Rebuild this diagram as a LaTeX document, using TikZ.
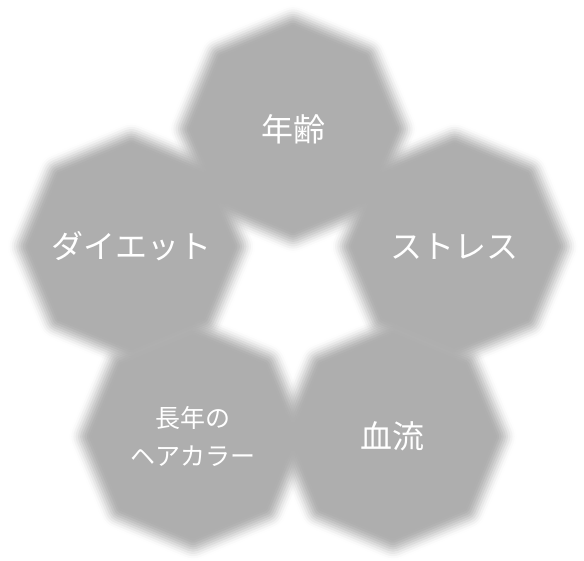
\documentclass[tikz,border=0pt]{standalone}
\usepackage{fontspec}
\usepackage{tikz}
\newfontfamily\jpfont{Noto Sans CJK JP}
\definecolor{petalgray}{RGB}{174,174,174}

\tikzset{
  petal/.style={petalgray, line join=round},
  lbl/.style={text=white, font=\jpfont\fontsize{32}{40}\selectfont},
  smalllbl/.style={text=white, align=center, font=\jpfont\fontsize{25}{38}\selectfont}
}

% one soft octagon
\newcommand{\petal}[1]{%
  \begin{scope}[shift={(#1:170)}]
    \fill[petal] (0:102) \foreach \j in {1,...,7}{ -- (45*\j:102)} -- cycle;
    \foreach \k in {1,...,10}{
      \pgfmathsetmacro\xa{(\k-0.5)/10}
      \pgfmathsetmacro\xb{(\k+0.5)/10}
      \pgfmathsetmacro\sa{3*\xa^2-2*\xa^3}
      \pgfmathsetmacro\sb{\k==10 ? 1 : 3*\xb^2-2*\xb^3}
      \pgfmathsetmacro\al{1-\sa/\sb}
      \pgfmathsetmacro\lw{4.4*\k}
      \draw[petal, line width=\lw pt, draw opacity=\al] (0:102) \foreach \j in {1,...,7}{ -- (45*\j:102)} -- cycle;
    }
  \end{scope}}

\begin{document}
\begin{tikzpicture}[x=1pt, y=1pt]
  \useasboundingbox (0, 0) rectangle (584, 560);
  \begin{scope}[shift={(293, 261)}]
    {
      \petal{90}
      \petal{18}
      \petal{-54}
      \petal{-126}
      \petal{162}
    }
    \node[lbl] (age) at (90:170) {年齢};
    \node[lbl] (stress) at (18:170) {ストレス};
    \node[lbl] (blood) at (-54:170) {血流};
    \node[smalllbl] (hair) at (-126:170) {長年の\\ヘアカラー};
    \node[lbl] (diet) at (162:170) {ダイエット};
  \end{scope}
\end{tikzpicture}
\end{document}
